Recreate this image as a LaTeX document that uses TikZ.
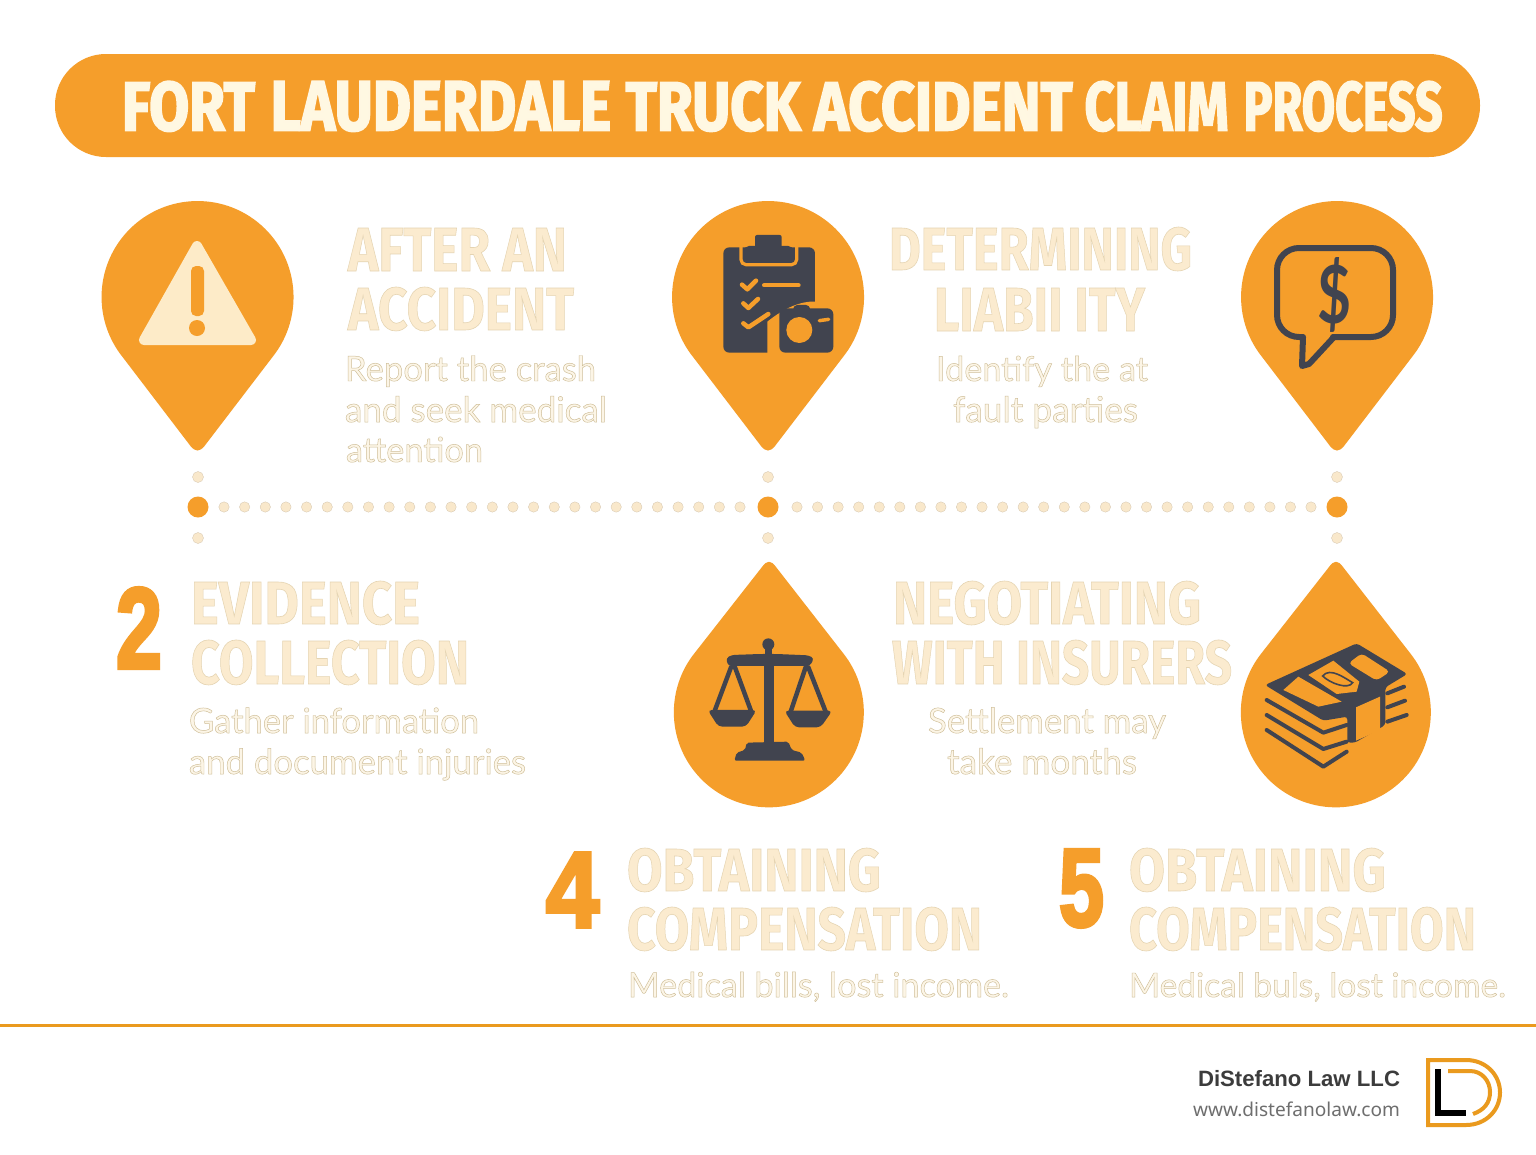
\documentclass[tikz,border=0pt]{standalone}
\usepackage{graphicx}
\usepackage{fontspec}
\setmainfont{Lato}
\newfontfamily\headfont{Fira Sans}[BoldFont={Fira Sans Bold}]
\newfontfamily\numfont{Liberation Sans}
\newfontfamily\footfont{Liberation Sans}
\newfontfamily\webfont{Noto Sans}
\definecolor{pinorange}{HTML}{F59E2B}
\definecolor{creamhead}{HTML}{FBEBCF}
\definecolor{creambody}{HTML}{FCF5E6}
\definecolor{titlecream}{HTML}{FFF8E2}
\definecolor{warncream}{HTML}{FDEBC8}
\definecolor{dotcream}{HTML}{F9E8CB}
\definecolor{icondark}{HTML}{41444F}
\definecolor{footdark}{HTML}{3C3C3C}
\definecolor{footgrey}{HTML}{6E6E6E}
\definecolor{logoorange}{HTML}{EA9A1E}
\newcommand{\outlhead}[1]{\special{pdf:code 2 Tr 0.4 w 0.90 0.83 0.70 RG}#1\special{pdf:code 0 Tr}}
\newcommand{\outlbody}[1]{\special{pdf:code 2 Tr 0.28 w 0.81 0.75 0.60 RG}#1\special{pdf:code 0 Tr}}
\newcommand{\outltitle}[1]{\special{pdf:code 2 Tr 1.1 w 1 0.97 0.886 RG}#1\special{pdf:code 0 Tr}}
\newcommand{\outlnum}[1]{\special{pdf:code 2 Tr 2.2 w 0.961 0.62 0.169 RG}#1\special{pdf:code 0 Tr}}
\newcommand{\titleword}[2]{\resizebox{#1pt}{49pt}{\headfont\bfseries\fontsize{40}{40}\selectfont\color{titlecream}\outltitle{#2}}}
\newcommand{\headtext}[6]{\node[textbox,anchor=south west] (#1) at (#2,#3) {\resizebox{#4pt}{#5pt}{\headfont\bfseries\fontsize{40}{40}\selectfont\color{creamhead}\outlhead{#6}}};}
\newcommand{\bodytext}[5]{\node[textbox,anchor=base west] (#1) at (#2,#3) {\resizebox{#4pt}{!}{\fontsize{20}{20}\selectfont\color{creambody}\outlbody{#5}}};}
\newcommand{\bignum}[6]{\node[textbox,anchor=south west] (#1) at (#2,#3) {\resizebox{#4pt}{#5pt}{\numfont\bfseries\fontsize{60}{60}\selectfont\color{pinorange}\outlnum{#6}}};}
\newcommand{\pindown}[2]{\fill[pinorange] (#1+75,#2+60) arc[start angle=-38.66,end angle=218.66,radius=96pt] -- (#1-7,#2+149) .. controls (#1-2,#2+155) and (#1+2,#2+155) .. (#1+7,#2+149) -- cycle;}
\newcommand{\pinup}[2]{\fill[pinorange] (#1+74,#2-60) arc[start angle=38.66,end angle=-218.66,radius=95pt] -- (#1-7,#2-146) .. controls (#1-2,#2-153) and (#1+2,#2-153) .. (#1+7,#2-146) -- cycle;}
\tikzset{textbox/.style={inner sep=0pt,outer sep=0pt},
 smalldot/.style={fill=dotcream,draw=dotcream!85!black,line width=.3pt},
 bigdot/.style={fill=pinorange},
 darkline/.style={draw=icondark,line join=round,line cap=round}}
\begin{document}
\begin{tikzpicture}[x=1pt,y=-1pt]
\useasboundingbox (0,0) rectangle (1536,1154);
\fill[white] (0,0) rectangle (1536,1154);
% title
\fill[pinorange,rounded corners=51pt] (55,54) rectangle (1480,157);
\node[textbox,anchor=south west] (title) at (122,131.5) {\titleword{133}{FORT}\hspace{15.5pt}\titleword{340.5}{LAUDERDALE}\hspace{14.5pt}\titleword{175}{TRUCK}\hspace{13.5pt}\titleword{258.5}{ACCIDENT}\hspace{12pt}\titleword{144}{CLAIM}\hspace{15pt}\titleword{199}{PROCESS}};
% pins
\pindown{197.5}{297}
\pindown{768}{297}
\pindown{1337}{297}
\pinup{769}{713}
\pinup{1336}{713}
% warning icon
\fill[warncream,draw=warncream,line width=10pt,line join=round] (197,246) -- (251,340) -- (144,340) -- cycle;
\fill[pinorange,rounded corners=5pt] (191,266) rectangle (204,316);
\fill[pinorange] (197,328) circle (8pt);
% clipboard icon
\begin{scope}[shift={(660,190)},x=.3333pt,y=-.3333pt]
\fill[icondark,rounded corners=6pt] (190,172) rectangle (465,488);
\fill[pinorange] (322,495) -- (322,395) .. controls (360,365) and (400,340) .. (450,335) -- (470,335) -- (470,495) -- cycle;
\fill[icondark,rounded corners=6pt] (358,355) rectangle (520,488);
\fill[icondark,rounded corners=4pt] (400,345) rectangle (450,365);
\fill[pinorange] (418,420) circle (13pt);
\draw[pinorange,line width=3.5pt,line cap=round] (478,392) -- (506,388);
\draw[pinorange,line width=3.2pt,rounded corners=5pt] (243,168) -- (243,224) -- (410,224) -- (410,168);
\fill[icondark,rounded corners=5pt] (252,168) rectangle (400,212);
\fill[icondark,rounded corners=2pt] (285,135) rectangle (365,185);
\draw[pinorange,line width=4.5pt,line cap=round,line join=round] (246,284) -- (262,298) -- (288,272);
\draw[pinorange,line width=4.5pt,line cap=round,line join=round] (250,340) -- (265,354) -- (294,327);
\draw[pinorange,line width=4.5pt,line cap=round,line join=round] (250,400) -- (265,412) -- (325,372);
\draw[pinorange,line width=4pt,line cap=round] (312,286) -- (416,286);
\end{scope}
% speech bubble icon
\draw[darkline,line width=6pt,rounded corners=22pt] (1302,337) -- (1277,337) -- (1277,248) -- (1393,248) -- (1393,337) -- (1333,337);
\draw[darkline,line width=6pt] (1303,337) -- (1302,366) -- (1309,364) -- (1334,337);
\node[textbox] (dollar) at (1334,295) {\resizebox{34pt}{66pt}{\color{icondark}\bfseries\fontsize{60}{60}\selectfont\$}};
% scales icon
\begin{scope}[shift={(660,550)},x=.3333pt,y=-.3333pt]
\fill[icondark] (325,283) circle (6pt);
\fill[icondark] (315,290) rectangle (335,320);
\fill[icondark,rounded corners=3pt] (198,325) -- (215,315) -- (300,312) -- (350,312) -- (445,316) -- (462,325) -- (450,348) -- (205,348) -- cycle;
\fill[icondark] (313,340) rectangle (341,590);
\fill[icondark,rounded corners=2pt] (223,632) -- (230,608) -- (255,600) -- (260,578) -- (385,575) -- (395,600) -- (425,608) -- (436,632) -- cycle;
\draw[darkline,line width=4.5pt] (213,352) -- (165,480);
\draw[darkline,line width=4.5pt] (225,352) -- (272,480);
\fill[icondark,rounded corners=4pt] (143,480) -- (290,480) -- (258,530) -- (175,530) -- cycle;
\draw[darkline,line width=4.5pt] (437,352) -- (392,485);
\draw[darkline,line width=4.5pt] (445,352) -- (497,485);
\fill[icondark,rounded corners=4pt] (373,482) -- (517,482) -- (482,532) -- (405,532) -- cycle;
\end{scope}
% money icon
\begin{scope}[shift={(1230,550)},x=.3333pt,y=-.3333pt]
\fill[icondark,rounded corners=3pt] (105,405) -- (380,280) -- (532,372) -- (466,412) -- (466,525) -- (375,578) -- (352,578) -- (352,500) -- (280,512) -- cycle;
\fill[pinorange] (160,420) -- (205,380) -- (335,455) -- (265,470) -- cycle;
\fill[pinorange] (235,375) -- (310,332) -- (388,395) -- (380,425) -- (320,432) -- cycle;
\fill[pinorange,rounded corners=4pt] (355,340) -- (395,310) -- (480,365) -- (440,392) -- cycle;
\draw[icondark,line width=1.6pt] (278,378) .. controls (300,350) and (345,385) .. (368,398) .. controls (355,420) and (300,400) .. (278,378) -- cycle;
\fill[pinorange] (378,472) -- (450,440) -- (450,540) -- (378,572) -- cycle;
\draw[darkline,line width=4pt] (110,450) -- (280,548) -- (350,525);
\draw[darkline,line width=4pt] (110,495) -- (280,597) -- (350,575);
\draw[darkline,line width=4pt] (110,540) -- (280,650) -- (350,605);
\draw[darkline,line width=4pt] (472,430) -- (522,410);
\draw[darkline,line width=4pt] (472,472) -- (525,452);
\draw[darkline,line width=4pt] (472,515) -- (530,495);
\end{scope}
% timeline
\foreach \i in {0,...,25}{\fill[smalldot] ({224+\i*20.64},507) circle (5.2pt);\fill[smalldot] ({797+\i*20.56},507) circle (5.2pt);}
\foreach \x in {198,768,1337}{\fill[smalldot] (\x,477) circle (5.5pt);\fill[smalldot] (\x,538) circle (5.5pt);\fill[bigdot] (\x,507) circle (10.5pt);}
% texts
\headtext{h1a}{348}{271}{219}{43}{AFTER AN}
\headtext{h1b}{348}{331}{226}{43}{ACCIDENT}
\bodytext{b1a}{345}{381}{251}{Report the crash}
\bodytext{b1b}{345}{422}{262}{and seek medical}
\bodytext{b1c}{346}{462}{137}{attention}
\headtext{h2a}{889}{271}{303}{43}{DETERMINING}
\headtext{h2b}{934}{331}{211}{43}{LIABII ITY}
\bodytext{b2a}{936}{381}{212}{Identify the at}
\bodytext{b2b}{953}{422}{185}{fault parties}
\bignum{n2}{116}{668}{46}{80}{2}
\headtext{h3a}{191}{625}{229}{43}{EVIDENCE}
\headtext{h3b}{191}{685}{278}{44}{COLLECTION}
\bodytext{b3a}{189}{733}{290}{Gather information}
\bodytext{b3b}{189}{774}{337}{and document injuries}
\headtext{h4a}{893}{625}{308}{43}{NEGOTIATING}
\headtext{h4b}{892}{685}{340}{44}{WITH INSURERS}
\bodytext{b4a}{928}{733}{238}{Settlement may}
\bodytext{b4b}{947}{774}{190}{take months}
\bignum{n4}{546}{927}{53}{74}{4}
\headtext{h5a}{627}{892}{254}{43}{OBTAINING}
\headtext{h5b}{627}{951}{355}{43}{COMPENSATION}
\bodytext{b5}{628}{997}{381}{Medical bills, lost income.}
\bignum{n5}{1059}{927}{45}{76}{5}
\headtext{h6a}{1129}{892}{257}{43}{OBTAINING}
\headtext{h6b}{1129}{951}{347}{43}{COMPENSATION}
\bodytext{b6}{1129}{997}{377}{Medical buls, lost income.}
% footer
\fill[logoorange] (0,1023.5) rectangle (1536,1026.5);
\node[textbox,anchor=base east] (firm) at (1400,1086) {\resizebox{202pt}{!}{\footfont\bfseries\fontsize{22}{22}\selectfont\color{footdark}DiStefano Law LLC}};
\node[textbox,anchor=base east] (web) at (1400,1116) {\resizebox{207pt}{!}{\webfont\fontsize{19}{19}\selectfont\color{footgrey}www.distefanolaw.com}};
% logo
\draw[logoorange,line width=4pt] (1428,1060) -- (1466,1060) .. controls (1486,1060) and (1500,1075) .. (1500,1092.5) .. controls (1500,1110) and (1486,1125) .. (1466,1125) -- (1428,1125) -- cycle;
\draw[logoorange,line width=4pt] (1448,1071) -- (1470,1071) .. controls (1482,1071) and (1490,1081) .. (1490,1092) .. controls (1490,1103) and (1484,1110) .. (1473,1114);
\draw[black,line width=5.5pt] (1438,1069) -- (1438,1113) -- (1466,1113);
\end{tikzpicture}
\end{document}
